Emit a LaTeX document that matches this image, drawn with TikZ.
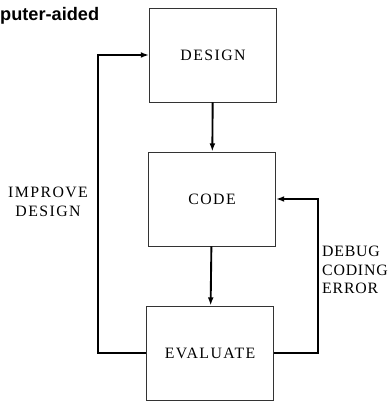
\documentclass[tikz,border=0pt]{standalone}
\usepackage{fontspec}
\setmainfont{Liberation Serif}
\newfontfamily\titolo{Liberation Sans}
\usepackage{tikz}
\usetikzlibrary{positioning,calc}
\usetikzlibrary{arrows.meta}
\newfontfamily\spaziato[LetterSpace=9]{Liberation Serif}
\newfontfamily\stretto[LetterSpace=5]{Liberation Serif}
\tikzstyle{fase} = [rectangle, minimum width=3.81cm, minimum height=2.82cm, text centered, draw=black!80, line width=0.8pt, font=\spaziato\fontsize{13.5}{16}\selectfont]
\tikzstyle{nota} = [align=center, font=\spaziato\fontsize{13.5}{16}\selectfont]
\tikzstyle{arrow} = [line width=1.6pt, -{Latex[length=7pt,width=5pt]}]

\begin{document}
\begin{tikzpicture}[x=0.03cm,y=-0.03cm]
	\useasboundingbox (0,0) rectangle (390,402);
	\node[anchor=west, inner sep=0pt, font=\titolo\bfseries\fontsize{15.5}{18}\selectfont] (tit) at (0,16) {puter-aided};
	\node (e1) at (213,55) [fase] {DESIGN};
	\node (e2) at (212,199) [fase] {CODE};
	\node (e3) at (210,353) [fase] {EVALUATE};
	\node (n1) at (48,202) [nota] {IMPROVE\\DESIGN};
	\node[anchor=west, inner sep=0pt] (n2) at (322,270) [nota,align=left,font=\stretto\fontsize{13.5}{16}\selectfont] {DEBUG\\CODING\\ERROR};

	\draw[arrow] (e1) -- (e2);
	\draw[arrow] (e2) -- (e3);
	\draw[arrow] (e3.west) -- ++(-48,0) |- (e1.west);
	\draw[arrow] (e3.east) -- ++(44,0) |- (e2.east);
\end{tikzpicture}
\end{document}
